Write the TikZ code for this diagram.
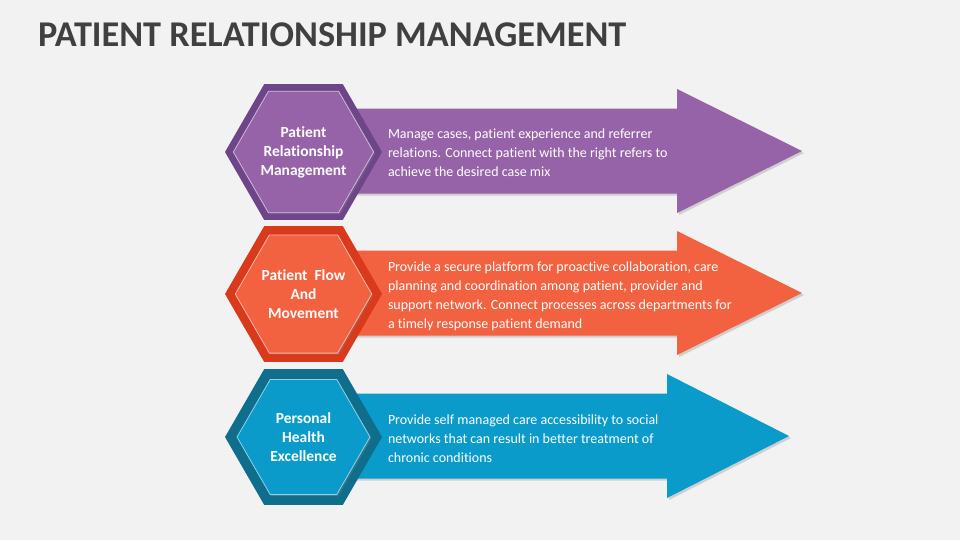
\documentclass[tikz,border=0pt]{standalone}
\usepackage{fontspec}
\setmainfont{Carlito}[Ligatures=NoCommon]
\usetikzlibrary{positioning,shapes.geometric,shadows}

\definecolor{bgGray}{HTML}{F2F2F2}
\definecolor{titleGray}{HTML}{404040}
\definecolor{prmDark}{HTML}{6E4588}
\definecolor{prmLight}{HTML}{9763A8}
\definecolor{flowDark}{HTML}{D83A1B}
\definecolor{flowLight}{HTML}{F26140}
\definecolor{pheDark}{HTML}{0E6E8C}
\definecolor{pheLight}{HTML}{0A9BCB}

\begin{document}
\begin{tikzpicture}
                    [
                        x=0.75pt,y=-0.75pt,
                        every node/.style={inner sep=0pt, outer sep=0pt},
                        hexouter/.style={regular polygon, regular polygon sides=6, minimum size=117.75pt, fill=#1},
                        hexinner/.style={regular polygon, regular polygon sides=6, minimum size=99.75pt, fill=#1,
                            draw=white!55!#1, line width=0.6pt,
                            drop shadow={opacity=0.35, shadow xshift=1.2pt, shadow yshift=-1.2pt},
                            text=white, align=center, font=\fontsize{11.6}{14.25}\selectfont\bfseries},
                        arrowbody/.style={fill=#1, drop shadow={opacity=0.3, shadow xshift=1.5pt, shadow yshift=-1.5pt}},
                        desc/.style={anchor=west, text=white, align=left, font=\fontsize{10.5}{14.25}\selectfont}
                    ]

                    % Hintergrund
                    \fill[bgGray] (0,0) rectangle (960,540);
                    \useasboundingbox (0,0) rectangle (960,540);

                    \node[anchor=base west, text=titleGray, font=\fontsize{27.2}{30}\selectfont\bfseries] (title) at (38,46) {PATIENT RELATIONSHIP MANAGEMENT};

                    % Pfeile
                    \foreach \cy/\hx/\tx/\col in {151/677/802/prmLight, 293/677/802/flowLight, 436/667/789/pheLight}
                        \fill[arrowbody=\col] (330,\cy-42.5) -- (\hx,\cy-42.5) -- (\hx,\cy-62) -- (\tx,\cy)
                            -- (\hx,\cy+62) -- (\hx,\cy+42.5) -- (330,\cy+42.5) -- cycle;

                    % Sechsecke
                    \node[hexouter=prmDark] (prmOuter) at (303.5,152) {};
                    \node[hexinner=prmLight] (prm) at (prmOuter) {Patient\\Relationship\\Management};

                    \node[hexouter=flowDark] (flowOuter) at (303.5,294) {};
                    \node[hexinner=flowLight] (flow) at (flowOuter) {Patient~~Flow\\And\\Movement};

                    \node[hexouter=pheDark] (pheOuter) at (303.5,437) {};
                    \node[hexinner=pheLight] (phe) at (pheOuter) {Personal\\Health\\Excellence};

                    % Texte
                    \node[desc] (prmText) at (388,153) {Manage cases, patient experience and referrer\\relations. Connect patient with the right refers to\\achieve the desired case mix};
                    \node[desc] (flowText) at (388,296.5) {Provide a secure platform for proactive collaboration, care\\planning and coordination among patient, provider and\\support network. Connect processes across departments for\\a timely response patient demand};
                    \node[desc] (pheText) at (388,439) {Provide self managed care accessibility to social\\networks that can result in better treatment of\\chronic conditions};
                \end{tikzpicture}
\end{document}
